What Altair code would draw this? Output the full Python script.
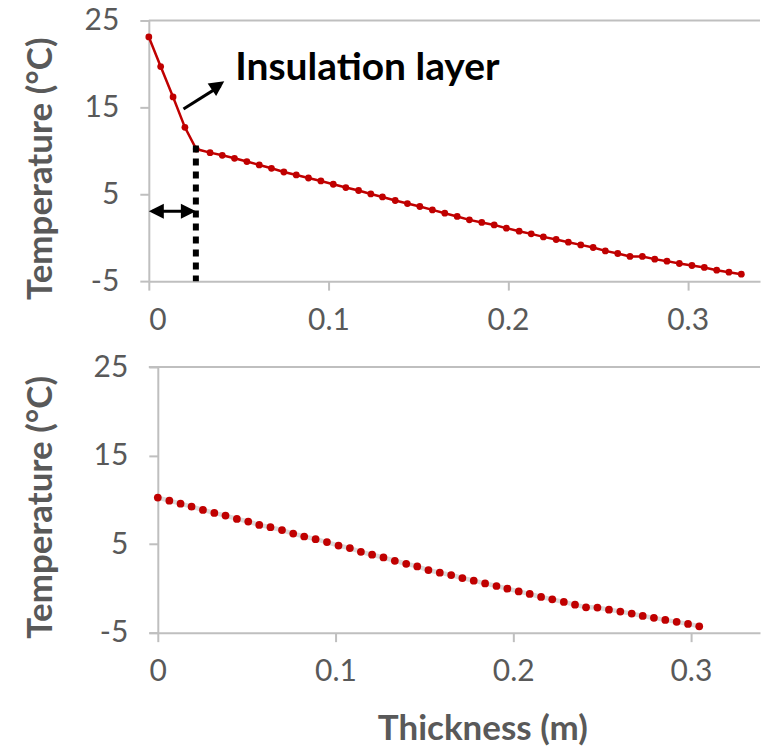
import altair as alt
import pandas as pd

# ---- data ----
top_x = [0.0000, 0.0066, 0.0135, 0.0201, 0.0264,
         0.0341, 0.0409, 0.0477, 0.0546, 0.0615, 0.0683, 0.0752, 0.0821, 0.0889, 0.0958,
         0.1027, 0.1097, 0.1168, 0.1236, 0.1301, 0.1372, 0.1440, 0.1509, 0.1579, 0.1648,
         0.1717, 0.1785, 0.1854, 0.1923, 0.1991, 0.2062, 0.2129, 0.2197, 0.2268, 0.2336,
         0.2405, 0.2474, 0.2542, 0.2611, 0.2679, 0.2748, 0.2817, 0.2885, 0.2954, 0.3024,
         0.3093, 0.3162, 0.3230, 0.3299]
top_t = [23.1, 19.7, 16.2, 12.7, 10.2,
         9.79, 9.48, 9.14, 8.76, 8.37, 7.99, 7.56, 7.22, 6.87, 6.53,
         6.15, 5.77, 5.43, 5.03, 4.69, 4.28, 3.93, 3.59, 3.20, 2.82,
         2.44, 2.05, 1.75, 1.47, 1.09, 0.75, 0.44, 0.09, -0.21, -0.52,
         -0.83, -1.13, -1.52, -1.82, -2.16, -2.16, -2.47, -2.70, -2.97, -3.20,
         -3.43, -3.74, -3.97, -4.20]

bot_x = [0.0000, 0.0065, 0.0128, 0.0190, 0.0254, 0.0318, 0.0381, 0.0445, 0.0509, 0.0571,
         0.0634, 0.0699, 0.0762, 0.0824, 0.0888, 0.0952, 0.1017, 0.1081, 0.1143, 0.1206,
         0.1270, 0.1334, 0.1398, 0.1460, 0.1523, 0.1587, 0.1651, 0.1714, 0.1778, 0.1842,
         0.1906, 0.1967, 0.2031, 0.2093, 0.2157, 0.2220, 0.2285, 0.2348, 0.2410, 0.2474,
         0.2539, 0.2603, 0.2667, 0.2729, 0.2792, 0.2856, 0.2920, 0.2984, 0.3047]
bot_t = [10.25, 9.91, 9.57, 9.23, 8.86, 8.52, 8.22, 7.85, 7.55, 7.17,
         6.91, 6.58, 6.19, 5.86, 5.56, 5.23, 4.84, 4.55, 4.13, 3.80,
         3.49, 3.12, 2.78, 2.48, 2.07, 1.77, 1.51, 1.17, 0.87, 0.56,
         0.27, -0.03, -0.34, -0.63, -0.97, -1.24, -1.53, -1.84, -2.14, -2.17,
         -2.40, -2.62, -2.85, -3.11, -3.33, -3.56, -3.78, -4.01, -4.28]

y_ticks = [-5, 5, 15, 25]
x_ticks = [0, 0.1, 0.2, 0.3]
y_title = "Temperature (°C)"
x_title = "Thickness (m)"
note_text = "Insulation layer"

insul_end = 0.0262          # insulation thickness marker
insul_top = 10.6            # top of dotted marker
span_arrow_t = 3.05         # level of the double arrow
diag_start = (0.0193, 14.8)  # annotation arrow tail
diag_tip = (0.0420, 18.0)    # annotation arrow tip
note_pos = (0.0481, 19.5)

RED = "#C00000"
AXIS = "#BFBFBF"
TXT = "#595959"
FONT = "Lato"
HEAD = "M0,0L-0.5,1L0.5,1Z"   # arrowhead pointing up, tip at origin

top_df = pd.DataFrame({"x": top_x, "t": top_t})
bot_df = pd.DataFrame({"x": bot_x, "t": bot_t})

ys = alt.Scale(domain=[-5, 25], nice=False, zero=False)
xs_top = alt.Scale(domain=[0, 0.3403], nice=False, zero=False)
xs_bot = alt.Scale(domain=[-0.00506, 0.3389], nice=False, zero=False)


def y_axis(title_y, offset=0, title_x=-97):
    return alt.Axis(values=y_ticks, title=y_title, labelExpr="'' + datum.value",
                    grid=False, offset=offset, labelPadding=21,
                    titleX=title_x, titleY=title_y, titleBaseline="alphabetic",
                    titleAngle=270, titleAlign="center")


def x_axis(title=None, **kw):
    return alt.Axis(values=x_ticks, title=title, format="~g", grid=False,
                    labelPadding=15, **kw)


def panel(df, xs, yaxis, xaxis, line_color, line_width, dot_size):
    base_rule = alt.Chart(pd.DataFrame({"t": [25]})).mark_rule(
        color=AXIS, strokeWidth=2).encode(y=alt.Y("t:Q", scale=ys, axis=yaxis))
    line = alt.Chart(df).mark_line(color=line_color, strokeWidth=line_width).encode(
        x=alt.X("x:Q", scale=xs, axis=xaxis), y=alt.Y("t:Q", scale=ys))
    pts = alt.Chart(df).mark_circle(color=RED, size=dot_size, opacity=1).encode(
        x=alt.X("x:Q", scale=xs), y=alt.Y("t:Q", scale=ys))
    return [base_rule, line, pts]


# ---- top panel ----
top_layers = panel(top_df, xs_top, y_axis(148), x_axis(), RED, 2.5, 46)

dotted = alt.Chart(pd.DataFrame({"x": [insul_end], "t": [insul_top], "t2": [-5]})).mark_rule(
    color="black", strokeWidth=6, strokeDash=[7, 6]).encode(
    x=alt.X("x:Q", scale=xs_top), y=alt.Y("t:Q", scale=ys), y2="t2:Q")

span = alt.Chart(pd.DataFrame({"x": [0.002], "x2": [insul_end - 0.002], "t": [span_arrow_t]})).mark_rule(
    color="black", strokeWidth=3).encode(
    x=alt.X("x:Q", scale=xs_top), x2="x2:Q", y=alt.Y("t:Q", scale=ys))
heads_df = pd.DataFrame({"x": [0.0, insul_end, diag_tip[0]],
                         "t": [span_arrow_t, span_arrow_t, diag_tip[1]],
                         "a": [270, 90, 55.5]})
heads = alt.Chart(heads_df).mark_point(shape=HEAD, filled=True, size=900, color="black",
                                       opacity=1, strokeWidth=0).encode(
    x=alt.X("x:Q", scale=xs_top), y=alt.Y("t:Q", scale=ys), angle=alt.Angle("a:Q", scale=None))
diag = alt.Chart(pd.DataFrame({"x": [diag_start[0]], "t": [diag_start[1]],
                               "x2": [diag_tip[0] - 0.002], "t2": [diag_tip[1] - 0.5]})).mark_rule(
    color="black", strokeWidth=3).encode(
    x=alt.X("x:Q", scale=xs_top), x2="x2:Q", y=alt.Y("t:Q", scale=ys), y2="t2:Q")
note = alt.Chart(pd.DataFrame({"x": [note_pos[0]], "t": [note_pos[1]], "s": [note_text]})).mark_text(
    align="left", baseline="middle", font=FONT, fontSize=39, fontWeight="bold", color="black").encode(
    x=alt.X("x:Q", scale=xs_top), y=alt.Y("t:Q", scale=ys), text="s:N")

top = alt.layer(*top_layers, dotted, span, diag, heads, note).properties(width=612, height=261)

# ---- bottom panel ----
bot_layers = panel(bot_df, xs_bot, y_axis(140, offset=-9, title_x=-106),
                   x_axis(x_title, titleX=334, titleY=107, titleBaseline="alphabetic",
                          titleAlign="center"),
                   "#D9D9D9", 4.5, 60)
bottom = alt.layer(*bot_layers).properties(width=612, height=266)

chart = alt.vconcat(top, bottom, spacing=86, bounds="flush").configure_view(
    stroke=None).configure_axis(
    labelFont=FONT, labelFontSize=30, labelColor=TXT,
    titleFont=FONT, titleFontSize=35, titleFontWeight="bold", titleColor=TXT,
    domainColor=AXIS, domainWidth=2, tickColor=AXIS, tickWidth=2, tickSize=9
).properties(padding={"left": 16, "top": -3, "right": 0, "bottom": 0})

chart.save("out.html", embed_options={"renderer": "svg", "actions": False})
